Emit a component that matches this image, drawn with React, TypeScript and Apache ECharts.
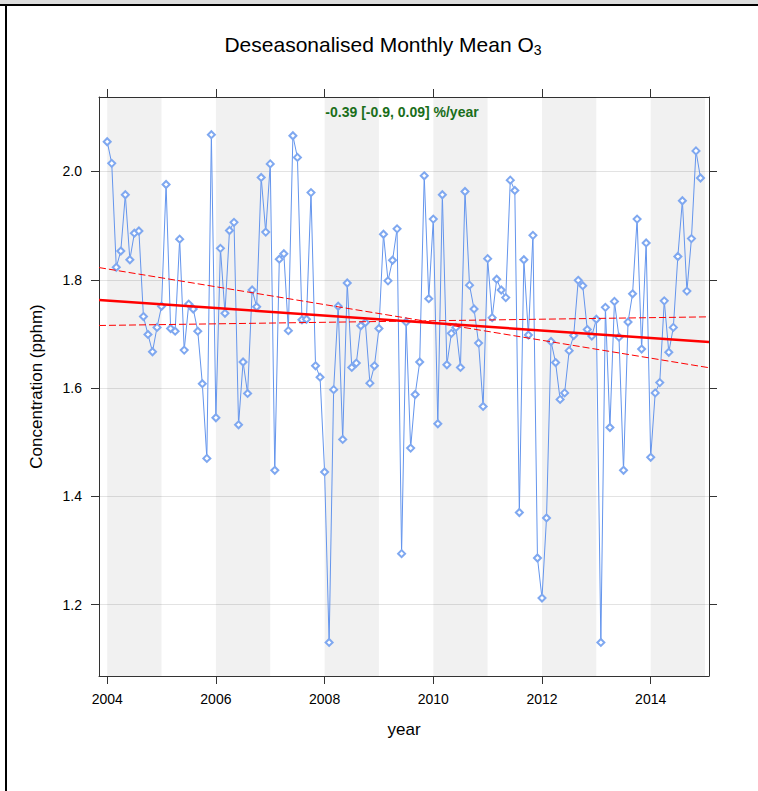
import React, { useEffect, useRef } from 'react';
import * as echarts from 'echarts';

// ---- Data (deseasonalised monthly mean O3, pphm), Jan 2004 .. Dec 2014 ----
const firstYear = 2004;
const values2004 = [2.055, 2.015, 1.823, 1.853, 1.957, 1.837, 1.886, 1.890, 1.732, 1.699, 1.667, 1.712];
const values2005 = [1.751, 1.976, 1.710, 1.705, 1.875, 1.670, 1.755, 1.746, 1.705, 1.608, 1.470, 2.068];
const values2006 = [1.545, 1.858, 1.738, 1.891, 1.906, 1.532, 1.648, 1.590, 1.781, 1.750, 1.989, 1.888];
const values2007 = [2.014, 1.448, 1.838, 1.848, 1.706, 2.066, 2.026, 1.726, 1.727, 1.961, 1.641, 1.620];
const values2008 = [1.445, 1.130, 1.597, 1.751, 1.505, 1.794, 1.638, 1.646, 1.715, 1.721, 1.609, 1.641];
const values2009 = [1.710, 1.884, 1.798, 1.836, 1.894, 1.294, 1.722, 1.489, 1.588, 1.648, 1.992, 1.765];
const values2010 = [1.912, 1.534, 1.957, 1.643, 1.701, 1.712, 1.638, 1.963, 1.790, 1.746, 1.683, 1.566];
const values2011 = [1.839, 1.730, 1.801, 1.781, 1.767, 1.984, 1.965, 1.370, 1.837, 1.698, 1.882, 1.286];
const values2012 = [1.212, 1.360, 1.686, 1.647, 1.579, 1.591, 1.669, 1.697, 1.799, 1.789, 1.708, 1.696];
const values2013 = [1.727, 1.130, 1.749, 1.527, 1.760, 1.694, 1.448, 1.722, 1.774, 1.912, 1.672, 1.868];
const values2014 = [1.472, 1.591, 1.610, 1.761, 1.666, 1.712, 1.843, 1.946, 1.779, 1.876, 2.038, 1.988];

const yearlyValues = [
  values2004, values2005, values2006, values2007, values2008, values2009,
  values2010, values2011, values2012, values2013, values2014,
];

const xTickValues = [2004, 2006, 2008, 2010, 2012, 2014];
const yTickValues = [1.2, 1.4, 1.6, 1.8, 2.0];
const shadedYears = [2004, 2006, 2008, 2010, 2012, 2014];

const xMin = 2003.849;
const xMax = 2015.073;
const yMin = 1.068;
const yMax = 2.1376;

// Theil-Sen trend line and its confidence bounds, values at xMin and xMax
const trendCentral = [1.7625, 1.685];
const trendSteep = [1.8225, 1.6375];
const trendShallow = [1.7155, 1.7315];

const titleText = 'Deseasonalised Monthly Mean O';
const titleSub = '3';
const trendLabel = '-0.39 [-0.9, 0.09] %/year';
const xName = 'year';
const yName = 'Concentration (pphm)';

const FONT = 'Liberation Sans, Arial, Helvetica, sans-serif';
const DATA_COL = '#6495ED';
const AXIS_COL = '#333333';

function buildOption() {
  const points: [number, number][] = [];
  yearlyValues.forEach((vals, yi) => {
    vals.forEach((v, mi) => {
      points.push([firstYear + yi + mi / 12, v]);
    });
  });

  const bands = shadedYears.map((y) => [
    { xAxis: y },
    { xAxis: Math.min(y + 1, xMax) },
  ]);

  const commonX = {
    type: 'value',
    min: xMin,
    max: xMax,
    axisLine: { show: true, onZero: false, lineStyle: { color: AXIS_COL, width: 1 } },
    axisTick: { show: true, inside: false, length: 8, customValues: xTickValues, lineStyle: { color: AXIS_COL } },
    splitLine: { show: false },
  };
  const commonY = {
    type: 'value',
    min: yMin,
    max: yMax,
    axisLine: { show: true, onZero: false, lineStyle: { color: AXIS_COL, width: 1 } },
    axisTick: { show: true, inside: false, length: 8, customValues: yTickValues, lineStyle: { color: AXIS_COL } },
  };

  return {
    animation: false,
    backgroundColor: '#ffffff',
    textStyle: { fontFamily: FONT },
    title: {
      text: `{a|${titleText}}{b|${titleSub}}`,
      left: 378,
      top: 26,
      textAlign: 'center',
      textStyle: {
        fontWeight: 'normal',
        rich: {
          a: { fontFamily: FONT, fontSize: 21, fontWeight: 'normal', color: '#000', lineHeight: 26, verticalAlign: 'middle' },
          b: { fontFamily: FONT, fontSize: 14, fontWeight: 'normal', color: '#000', lineHeight: 26, verticalAlign: 'bottom' },
        },
      },
    },
    grid: { left: 99, right: 49, top: 97, bottom: 115, containLabel: false },
    xAxis: [
      {
        ...commonX,
        position: 'bottom',
        name: xName,
        nameLocation: 'middle',
        nameGap: 45,
        nameTextStyle: { fontFamily: FONT, fontSize: 17, color: '#000' },
        axisLabel: {
          show: true,
          customValues: xTickValues,
          margin: 16,
          fontFamily: FONT,
          fontSize: 14,
          color: '#000',
          formatter: (v: number) => String(Math.round(v)),
        },
      },
      {
        ...commonX,
        position: 'top',
        axisLabel: { show: false },
      },
    ],
    yAxis: [
      {
        ...commonY,
        position: 'left',
        name: yName,
        nameLocation: 'middle',
        nameGap: 54,
        nameTextStyle: { fontFamily: FONT, fontSize: 17, color: '#000' },
        axisLabel: {
          show: true,
          customValues: yTickValues,
          margin: 17,
          fontFamily: FONT,
          fontSize: 14,
          color: '#000',
          formatter: (v: number) => v.toFixed(1),
        },
        splitLine: { show: true, lineStyle: { color: '#e3e3e3', width: 1 } },
      },
      {
        ...commonY,
        position: 'right',
        axisLabel: { show: false },
        splitLine: { show: false },
      },
    ],
    graphic: [
      { type: 'rect', shape: { x: 0, y: 0, width: 758, height: 4 }, style: { fill: '#dcdcdc' }, silent: true },
      { type: 'rect', shape: { x: 0, y: 4, width: 758, height: 2 }, style: { fill: '#000' }, silent: true },
      { type: 'rect', shape: { x: 5, y: 4, width: 2, height: 787 }, style: { fill: '#000' }, silent: true },
      {
        type: 'text',
        x: 402,
        y: 112,
        z: 10,
        style: {
          text: trendLabel,
          fontFamily: FONT,
          fontSize: 14,
          fontWeight: 'bold',
          fill: '#1a6e1a',
          align: 'center',
          verticalAlign: 'middle',
        },
      },
    ],
    series: [
      {
        name: 'bands',
        type: 'line',
        data: [],
        z: 1,
        silent: true,
        markArea: {
          silent: true,
          itemStyle: { color: 'rgba(0,0,0,0.055)' },
          data: bands,
        },
      },
      {
        name: 'O3',
        type: 'line',
        data: points,
        z: 3,
        symbol: 'emptyDiamond',
        symbolSize: 7,
        showAllSymbol: true,
        lineStyle: { color: DATA_COL, width: 1 },
        itemStyle: { color: '#7fa8f0', borderColor: '#7fa8f0', borderWidth: 0.8 },
      },
      {
        name: 'trend',
        type: 'line',
        data: [[xMin, trendCentral[0]], [xMax, trendCentral[1]]],
        z: 5,
        symbol: 'none',
        lineStyle: { color: '#ff0000', width: 2.5 },
      },
      {
        name: 'lower',
        type: 'line',
        data: [[xMin, trendSteep[0]], [xMax, trendSteep[1]]],
        z: 4,
        symbol: 'none',
        lineStyle: { color: '#ff0000', width: 1, type: [7, 3] },
      },
      {
        name: 'upper',
        type: 'line',
        data: [[xMin, trendShallow[0]], [xMax, trendShallow[1]]],
        z: 4,
        symbol: 'none',
        lineStyle: { color: '#ff0000', width: 1, type: [7, 3] },
      },
    ],
  };
}

export default function App() {
  const ref = useRef<HTMLDivElement>(null);
  useEffect(() => {
    if (!ref.current) return;
    const chart = echarts.init(ref.current, null, { renderer: 'svg' });
    chart.setOption(buildOption() as any);
    return () => chart.dispose();
  }, []);
  return (
    <div
      ref={ref}
      style={{ position: 'fixed', left: 0, top: 0, width: 758, height: 791, background: '#fff' }}
    />
  );
}
